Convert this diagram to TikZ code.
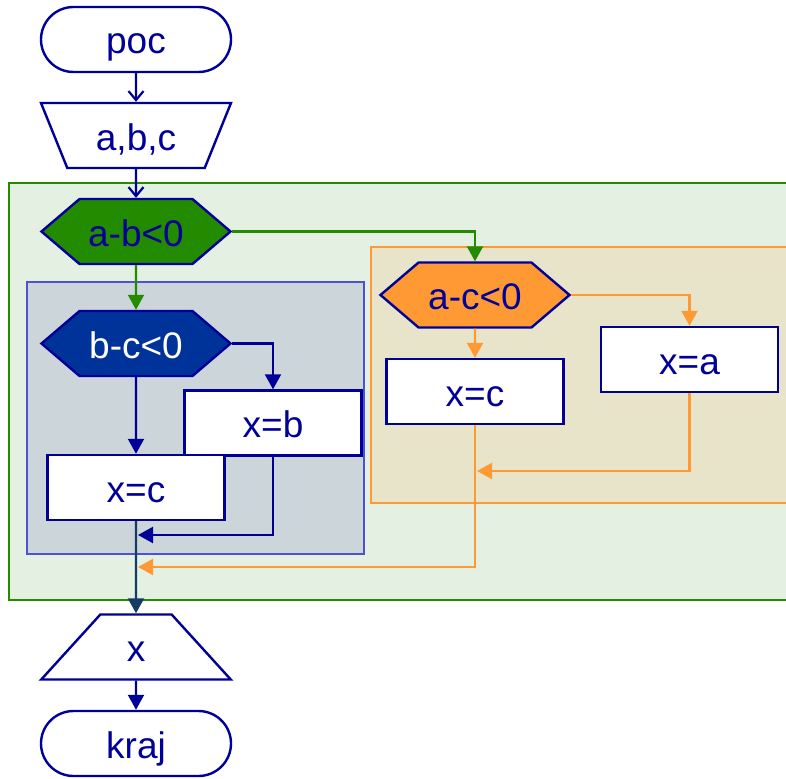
\documentclass[tikz,border=0pt]{standalone}
\usepackage{fontspec}
\setmainfont{Liberation Sans}
\usetikzlibrary{shapes.geometric,shapes.misc,shapes.symbols,arrows.meta}
\definecolor{navy}{RGB}{0,0,153}
\definecolor{leaf}{RGB}{34,139,0}
\definecolor{leafbg}{RGB}{228,240,226}
\definecolor{amber}{RGB}{255,153,51}
\definecolor{amberbg}{RGB}{232,228,202}
\definecolor{slatebg}{RGB}{204,213,217}
\definecolor{slateln}{RGB}{80,80,210}
\definecolor{deepblue}{RGB}{0,51,153}
\definecolor{tealln}{RGB}{20,60,100}
\begin{document}
\begin{tikzpicture}[x=1pt,y=-1pt,
  every node/.style={draw=navy,line width=2.4pt,text=navy,
    font=\fontsize{37}{40}\selectfont,inner sep=0pt,text height=33pt,text depth=4pt},
  term/.style={rounded rectangle,fill=white,minimum width=190pt,minimum height=65pt},
  io/.style={trapezium,fill=white,trapezium left angle=67.5,trapezium right angle=67.5,
    trapezium stretches=true,minimum width=190pt,minimum height=65pt},
  test/.style={signal,signal to=west and east,signal pointer angle=81,
    minimum width=189pt,minimum height=65pt},
  stepbox/.style={rectangle,fill=white,minimum width=177pt,minimum height=65pt},
  flow/.style={line width=2.2pt,-{Triangle[length=15pt,width=16pt]}},
  open/.style={line width=2.2pt,-{Straight Barb[length=9pt,width=15pt]}}]
\useasboundingbox (0,0) rectangle (786,778);
% frames
\fill[leafbg,draw=leaf,line width=1.6pt] (9,183) rectangle (800,600);
\fill[amberbg,draw=amber,line width=1.6pt] (371,247) rectangle (800,503);
\fill[slatebg,draw=slateln,line width=1.6pt] (27,282) rectangle (364,554);
% nodes
\node[term] (poc) at (136,39.5) {poc};
\node[io,shape border rotate=180] (abc) at (136,135.5) {a,b,c};
\node[test,fill=leaf] (ab) at (136,231.5) {a-b<0};
\node[test,fill=deepblue,text=white] (bc) at (136,343.5) {b-c<0};
\node[stepbox] (xb) at (273,423) {x=b};
\node[stepbox] (xc1) at (136,487.5) {x=c};
\node[test,fill=amber] (ac) at (475,295) {a-c<0};
\node[stepbox] (xc2) at (475,391.5) {x=c};
\node[stepbox] (xa) at (689.5,359.5) {x=a};
\node[io] (out) at (136,647) {x};
\node[term] (kraj) at (136,743.5) {kraj};
\coordinate (j1) at (138,535);
\coordinate (j2) at (477,471);
\coordinate (j3) at (138,567);
% connectors
\draw[open,navy] (poc) -- (abc);
\draw[open,navy] (abc) -- (ab);
\draw[flow,leaf] (ab) -- (bc);
\draw[flow,leaf] (ab.east) -| (ac.north);
\draw[flow,navy] (bc.east) -| (xb.north);
\draw[flow,navy] (bc) -- (xc1);
\draw[flow,navy] (xb.south) |- (j1);
\draw[flow,amber] (ac.east) -| (xa.north);
\draw[flow,amber] (ac) -- (xc2);
\draw[flow,amber] (xa.south) |- (j2);
\draw[flow,amber] (xc2.south) |- (j3);
\draw[flow,tealln] (xc1) -- (out);
\draw[flow,navy] (out) -- (kraj);
\end{tikzpicture}
\end{document}
